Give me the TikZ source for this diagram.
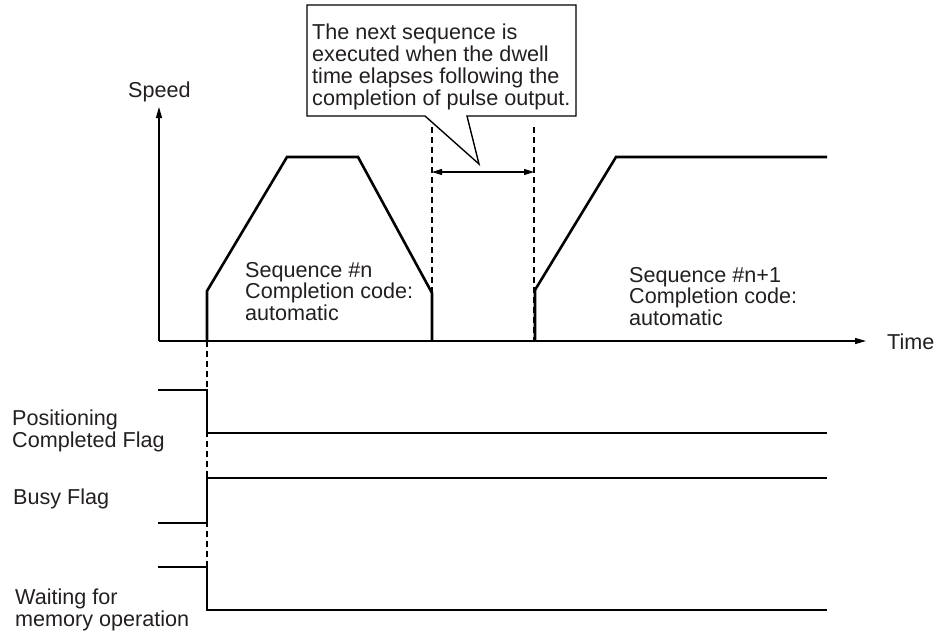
\documentclass[tikz,border=0pt]{standalone}
\usepackage{fontspec}
\setmainfont{Liberation Sans}
\usetikzlibrary{arrows.meta}
\definecolor{txt}{RGB}{35,31,32}
\begin{document}
\begin{tikzpicture}[x=1pt,y=-1pt,
  lbl/.style={font=\fontsize{21.6}{21.7}\selectfont, text=txt, inner sep=0pt, align=left, anchor=base west},
  axis/.style={line width=1.3pt, -{Triangle[length=11pt,width=6pt]}},
  prof/.style={line width=2.6pt, line join=miter},
  sig/.style={line width=2.6pt},
  guide/.style={line width=1.3pt, dash pattern=on 6pt off 4pt},
  dim/.style={line width=1.1pt, {Triangle[length=10pt,width=6pt]}-{Triangle[length=10pt,width=6pt]}},
  callout/.style={line width=1.4pt, fill=white, line join=miter}]
\useasboundingbox (0,0) rectangle (946,635);

% axes
\coordinate (O) at (159,341);
\coordinate (Ytop) at (159,107);
\coordinate (Xend) at (866,341);
\draw[axis] (O) -- (Ytop);
\draw[axis] (O) -- (Xend);
\node[lbl] (speed) at (128,97) {Speed};
\node[lbl] (time) at (887,349) {Time};

% guide lines
\coordinate (g1t) at (432,127);
\coordinate (g1b) at (432,341);
\coordinate (g2t) at (534,127);
\coordinate (g2b) at (534,341);
\coordinate (g0t) at (207,341);
\coordinate (g0b) at (207,567);
\draw[guide] (g1t) -- (g1b);
\draw[guide] (g2t) -- (g2b);
\draw[guide] (g0t) -- (g0b);

% dwell arrow
\coordinate (d1) at (432,172);
\coordinate (d2) at (534,172);
\draw[dim] (d1) -- (d2);

% speed profiles
\draw[prof] (207,341) -- (207,291) -- (287,157) -- (358,157) -- (432,293) -- (432,341);
\draw[prof] (535,341) -- (535,290) -- (616,157) -- (827,157);

\node[lbl] (seqn) at (245,320.4) {Sequence \#n\\Completion code:\\automatic};
\node[lbl] (seqn1) at (629,325.4) {Sequence \#n+1\\Completion code:\\automatic};

% callout
\draw[callout] (307,5) -- (576,5) -- (576,116) -- (467,116) -- (479,164) -- (425,116) -- (307,116) -- cycle;
\node[lbl] (note) at (312,105) {The next sequence is\\executed when the dwell\\time elapses following the\\completion of pulse output.};

% signals
\draw[sig] (158,390) -- (207,390) -- (207,433) -- (827,433);
\draw[sig] (158,523) -- (207,523) -- (207,478) -- (827,478);
\draw[sig] (158,567) -- (207,567) -- (207,610) -- (827,610);

\node[lbl] (pcf) at (12,447) {Positioning\\Completed Flag};
\node[lbl] (busy) at (13,504) {Busy Flag};
\node[lbl] (wait) at (15,626) {Waiting for\\memory operation};
\end{tikzpicture}
\end{document}
